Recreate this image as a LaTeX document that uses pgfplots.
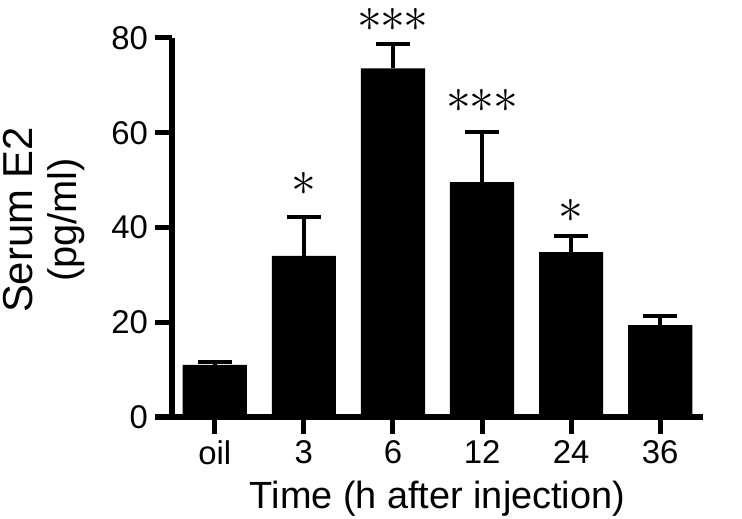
\documentclass[border=0pt]{standalone}
\usepackage{pgfplots}
\pgfplotsset{compat=1.18}
\usepackage{fontspec}
\setmainfont{Liberation Sans}

\begin{document}
\begin{tikzpicture}
  \path[use as bounding box] (-86bp,-51bp) rectangle (285bp,208.5bp);
  \begin{axis}[
    width=265.5bp, height=189.5bp, scale only axis,
    xmin=-0.48, xmax=5.48, ymin=0, ymax=80,
    axis x line*=bottom, axis y line*=left,
    axis line style={line width=3bp, -},
    tick align=outside, major tick length=8.5bp,
    tick style={line width=2.5bp, black},
    xtick={0,...,5}, xticklabels={oil,3,6,12,24,36},
    ytick={0,20,...,80}, minor tick num=0,
    /pgf/number format/assume math mode=true,
    ticklabel style={font=\fontsize{16.5}{16.5}\selectfont},
    ylabel={{\fontsize{21}{21}\selectfont Serum E2}\\(pg/ml)},
    ylabel style={at={(axis description cs:-0.241,0.52)}, anchor=center,
      align=center, font=\fontsize{20}{22.5}\selectfont},
    xlabel={Time (h after injection)},
    xlabel style={at={(axis description cs:0.5,0)}, anchor=base,
      yshift=-45.5bp, font=\fontsize{19}{21.5}\selectfont},
    clip=false,
  ]
    \addplot[ybar, bar width=0.72, bar shift=0pt, fill=black, draw=none,
      error bars/.cd, y dir=plus, y explicit,
      error bar style={line width=2bp, black},
      error mark options={rotate=90, mark size=8.5bp, line width=2bp, black}]
      coordinates {
        (0,11.0) +- (0,0.6)
        (1,34.0) +- (0,8.2)
        (2,73.6) +- (0,5.1)
        (3,49.6) +- (0,10.5)
        (4,34.8) +- (0,3.4)
        (5,19.4) +- (0,1.9)
      };
    % significance stars
    \addplot[draw=none, mark=none, nodes near coords, point meta=explicit symbolic,
      nodes near coords style={anchor=center, inner sep=0pt,
        font=\fontsize{25}{25}\selectfont}]
      coordinates {
        (1,49.2) [${\ast}$]
        (2,83.9) [${\ast}\mkern-0.5mu{\ast}\mkern-0.5mu{\ast}$]
        (3,66.7) [${\ast}\mkern-0.5mu{\ast}\mkern-0.5mu{\ast}$]
        (4,43.5) [${\ast}$]
      };
  \end{axis}
\end{tikzpicture}
\end{document}
